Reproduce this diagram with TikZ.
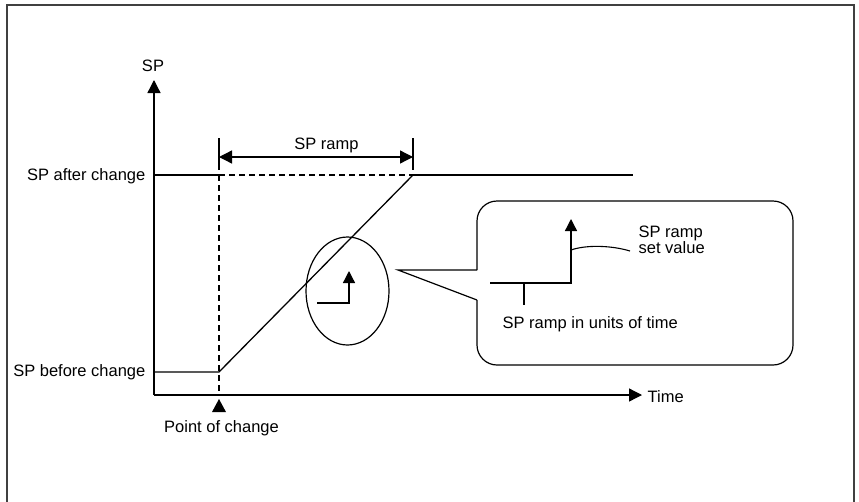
\documentclass[tikz,border=0pt]{standalone}
\usepackage{fontspec}
\setmainfont{Liberation Sans}
\usetikzlibrary{arrows.meta,shapes.geometric}
\begin{document}
\begin{tikzpicture}[x=1pt,y=-1pt,line width=1.3pt,line join=miter,
  lbl/.style={font=\fontsize{16.5}{16}\selectfont,inner sep=0pt},
  tri/.style={-{Triangle[length=13pt,width=13pt]}},
  dimarrow/.style={{Triangle[length=13pt,width=13pt]}-{Triangle[length=13pt,width=13pt]}},
  dsh/.style={dash pattern=on 6pt off 4pt},
  framecol/.style={draw=black!75,line width=1.8pt}]
\useasboundingbox (0,0) rectangle (859,501);
% outer frame
\draw[framecol] (7,505) -- (7,5) -- (854,5) -- (854,505);

% axes
\coordinate (O) at (154,395);
\coordinate (Ytop) at (154,80);
\coordinate (Xend) at (642,395);
\draw[tri] (O) -- (Ytop);
\draw[tri] (O) -- (Xend);
\node[lbl,anchor=base] (splabel) at (153,71) {SP};
\node[lbl,anchor=base west] (time) at (647,402) {Time};

% levels
\coordinate (Aafter) at (154,175);
\coordinate (Bafter) at (219,175);
\coordinate (Cafter) at (413,175);
\coordinate (Dafter) at (633,175);
\coordinate (Abefore) at (154,372);
\coordinate (Bbefore) at (219,372);
\coordinate (Baxis) at (219,395);
\draw (Aafter) -- (Bafter);
\draw (Cafter) -- (Dafter);
\draw[dsh,line width=1.1pt] (Bafter) -- (Cafter);
\draw[dsh,line width=1.1pt] (Bafter) -- (Baxis);
\draw (Abefore) -- (Bbefore) -- (Cafter);
\node[lbl,anchor=base east] (after) at (146,180) {SP after change};
\node[lbl,anchor=base east] (before) at (146,376) {SP before change};

% SP ramp dimension
\coordinate (t1a) at (219,138);
\coordinate (t1b) at (219,170);
\coordinate (t2a) at (413,138);
\coordinate (t2b) at (413,170);
\draw[line width=1.1pt] (t1a) -- (t1b);
\draw[line width=1.1pt] (t2a) -- (t2b);
\coordinate (d1) at (219,157);
\coordinate (d2) at (413,157);
\draw[dimarrow] (d1) -- (d2);
\node[lbl,anchor=base] (ramp) at (326.5,149) {SP ramp};

% point of change
\coordinate (poctip) at (219,399);
\fill (poctip) -- (226,412) -- (212,412) -- cycle;
\node[lbl,anchor=base] (poc) at (221.5,432) {Point of change};

% magnifier ellipse
\node[ellipse,draw,line width=1.2pt,minimum width=83pt,minimum height=108pt,inner sep=0pt] (zoomell) at (347.5,291) {};
\coordinate (s1) at (317,303);
\coordinate (s2) at (349,303);
\coordinate (s3) at (349,271);
\draw[-{Triangle[length=12pt,width=12pt]}] (s1) -- (s2) -- (s3);

% callout
\coordinate (ptip) at (398,270);
\coordinate (pa) at (477,270);
\coordinate (pb) at (477,300);
\draw[line width=1.2pt] (pa) -- (ptip) -- (pb);
\draw[line width=1.2pt,rounded corners=20pt] (pa) -- (477,201) -- (793,201) -- (793,365) -- (477,365) -- (pb);

\coordinate (c1) at (490,283);
\coordinate (c2) at (571,283);
\coordinate (c3) at (571,219);
\draw[-{Triangle[length=12pt,width=12pt]}] (c1) -- (c2) -- (c3);
\coordinate (tk1) at (524,283);
\coordinate (tk2) at (524,305);
\draw (tk1) -- (tk2);
\coordinate (lead1) at (571,250);
\coordinate (lead2) at (630,251);
\draw[line width=1.1pt] (lead1) .. controls (585,245) and (610,245) .. (lead2);
\node[lbl,anchor=base west,align=left] (setval) at (638,253) {SP ramp\\set value};
\node[lbl,anchor=base west] (units) at (502,328) {SP ramp in units of time};
\end{tikzpicture}
\end{document}
